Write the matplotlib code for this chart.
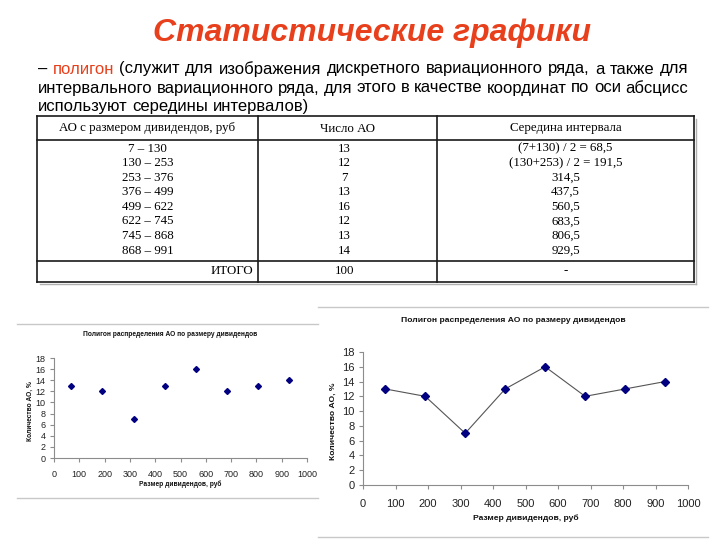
import matplotlib
matplotlib.use('Agg')
import matplotlib.pyplot as plt
from matplotlib.lines import Line2D

plt.rcParams['font.family'] = ['Liberation Sans', 'DejaVu Sans']

# ---- data ----
title = 'Статистические графики'
para_lines = [
    ['–', 'полигон', '(служит', 'для', 'изображения', 'дискретного', 'вариационного', 'ряда,', 'а', 'также', 'для'],
    ['интервального', 'вариационного', 'ряда,', 'для', 'этого', 'в', 'качестве', 'координат', 'по', 'оси', 'абсцисс'],
    ['используют', 'середины', 'интервалов)'],
]
red_words = ['полигон']

headers = ['АО с размером дивидендов, руб', 'Число АО', 'Середина интервала']
intervals = ['7 – 130', '130 – 253', '253 – 376', '376 – 499', '499 – 622', '622 – 745', '745 – 868', '868 – 991']
counts = [13, 12, 7, 13, 16, 12, 13, 14]
mid_labels = ['(7+130) / 2 = 68,5', '(130+253) / 2 = 191,5', '314,5', '437,5', '560,5', '683,5', '806,5', '929,5']
midpoints = [68.5, 191.5, 314.5, 437.5, 560.5, 683.5, 806.5, 929.5]
total_row = ['ИТОГО', '100', '-']

chart_title = 'Полигон распределения АО по размеру дивидендов'
xlab = 'Размер дивидендов, руб'
ylab = 'Количество АО, %'

W, H = 720, 540
RED = '#e8401c'
fig = plt.figure(figsize=(7.2, 5.4), dpi=100)


def fx(px):
    return px / W


def fy(py):
    return 1 - py / H


# title
fig.text(fx(372), fy(33), title, color=RED, fontsize=23, fontweight='bold',
         fontstyle='italic', ha='center', va='center')

# justified paragraph
renderer = fig.canvas.get_renderer()
left, right = 38, 688
line_y = [69, 88, 106]
for i, words in enumerate(para_lines):
    texts = []
    for w in words:
        t = fig.text(0, fy(line_y[i]), w, fontsize=12, va='center', ha='left',
                     color=RED if w in red_words else 'black')
        texts.append(t)
    widths = [t.get_window_extent(renderer).width for t in texts]
    if i < len(para_lines) - 1:
        gap = (right - left - sum(widths)) / (len(words) - 1)
    else:
        gap = fig.text(0, 0, ' ', fontsize=12).get_window_extent(renderer).width
    x = left
    for t, wd in zip(texts, widths):
        t.set_x(fx(x))
        x += wd + gap

# table
tl, tr, tt, tb = 37, 694, 116, 282
c1, c2 = 258, 437
hl, il = 140, 261
lc = '#1a1a1a'
for (x0, y0, x1, y1) in [(tl, tt, tr, tt), (tl, tb, tr, tb), (tl, tt, tl, tb), (tr, tt, tr, tb),
                         (tl, hl, tr, hl), (tl, il, tr, il), (c1, tt, c1, tb), (c2, tt, c2, tb)]:
    fig.add_artist(Line2D([fx(x0), fx(x1)], [fy(y0), fy(y1)], color=lc, lw=1.2))
# light shadow on right/bottom
fig.add_artist(Line2D([fx(tl + 3), fx(tr + 1.5)], [fy(tb + 1.5), fy(tb + 1.5)], color='#b0b0b0', lw=1))
fig.add_artist(Line2D([fx(tr + 1.5), fx(tr + 1.5)], [fy(tt + 3), fy(tb + 1.5)], color='#b0b0b0', lw=1))

serif = ['Liberation Serif', 'DejaVu Serif']
col_x = [(tl + c1) / 2, (c1 + c2) / 2, (c2 + tr) / 2]
for cx, h in zip(col_x, headers):
    fig.text(fx(cx), fy(128.5), h, family=serif, fontsize=9.3, ha='center', va='center')
row_y0, row_step = 148.5, (250.5 - 148.5) / 7
for k in range(len(counts)):
    yy = fy(row_y0 + k * row_step)
    fig.text(fx(col_x[0]), yy, intervals[k], family=serif, fontsize=9.3, ha='center', va='center')
    fig.text(fx(col_x[1] - 3), yy, str(counts[k]), family=serif, fontsize=9.3, ha='center', va='center')
    fig.text(fx(col_x[2]), yy, mid_labels[k], family=serif, fontsize=9.3, ha='center', va='center')
fig.text(fx(c1 - 5), fy(271.5), total_row[0], family=serif, fontsize=9.3, ha='right', va='center')
fig.text(fx(col_x[1] - 3), fy(271.5), total_row[1], family=serif, fontsize=9.3, ha='center', va='center')
fig.text(fx(col_x[2]), fy(271.5), total_row[2], family=serif, fontsize=9.3, ha='center', va='center')

# chart frames (thin grey lines of the pasted pictures)
for (x0, y0, x1, y1) in [(17, 324, 318, 324), (17, 498, 318, 498), (318, 307, 708, 307), (318, 537, 708, 537)]:
    fig.add_artist(Line2D([fx(x0), fx(x1)], [fy(y0), fy(y1)], color='#c8c8c8', lw=1))


def polygon_chart(x0, x1, ytop, ybot, connect, fs, ms, title_x, title_y, xlab_y, ylab_x, title_fs):
    ax = fig.add_axes([fx(x0), fy(ybot), (x1 - x0) / W, (ybot - ytop) / H])
    if connect:
        ax.plot(midpoints, counts, color='#555555', lw=0.8, zorder=2)
    ax.plot(midpoints, counts, ls='none', marker='D', ms=ms, color='#000080', zorder=3)
    ax.set_xlim(0, 1000)
    ax.set_ylim(0, 18)
    ax.set_xticks(range(0, 1001, 100))
    ax.set_yticks(range(0, 19, 2))
    for s in ['top', 'right']:
        ax.spines[s].set_visible(False)
    for s in ['left', 'bottom']:
        ax.spines[s].set_color('#8c8c8c')
        ax.spines[s].set_linewidth(0.8)
    ax.tick_params(direction='out', length=3, width=0.8, color='#8c8c8c',
                   labelsize=fs, labelcolor='#222222', pad=3)
    ax.tick_params(axis='x', pad=fs * 0.9)
    ax.patch.set_alpha(0)
    fig.text(fx(title_x), fy(title_y), chart_title, fontsize=title_fs,
             fontweight='bold', ha='center', va='center', color='#111111')
    fig.text(fx((x0 + x1) / 2), fy(xlab_y), xlab, fontsize=title_fs,
             fontweight='bold', ha='center', va='center', color='#111111')
    fig.text(fx(ylab_x), fy((ytop + ybot) / 2 + 3), ylab, fontsize=title_fs,
             fontweight='bold', ha='center', va='center', rotation=90, color='#111111')
    return ax


polygon_chart(54, 307, 358, 458, False, 6.5, 3, 170, 334, 484, 30, 4.8)
polygon_chart(363, 688, 352, 485, True, 8, 4.3, 513, 321, 518, 333, 6.1)

fig.savefig('out.png', dpi=100)
